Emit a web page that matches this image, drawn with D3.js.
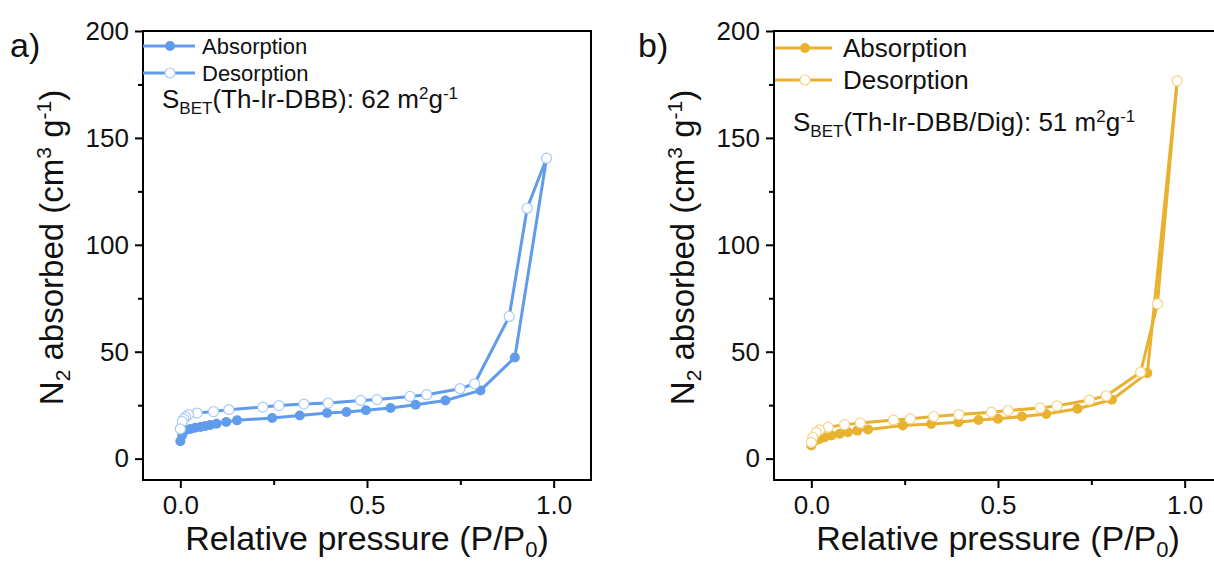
<!DOCTYPE html>
<html lang="en">
<head>
<meta charset="UTF-8">
<title>N2 isotherms</title>
<script src="https://cdnjs.cloudflare.com/ajax/libs/d3/7.8.5/d3.min.js"></script>
<style>
  body { margin: 0; background: white; }
  svg { display: block; font-family: "Liberation Sans", Arial, sans-serif; }
</style>
</head>
<body>
<div id="chart"></div>
<script>
// values
const adsA_P = [0.0, 0.005, 0.013, 0.027, 0.04, 0.054, 0.067, 0.08, 0.097, 0.123, 0.152, 0.246, 0.32, 0.393, 0.445, 0.497, 0.563, 0.63, 0.71, 0.804, 0.896, 0.981];
const adsA_V = [8.1, 11, 13.2, 13.9, 14.4, 14.8, 15.3, 15.7, 16.3, 17.1, 17.9, 19.0, 20.2, 21.3, 21.8, 22.6, 23.7, 25.2, 27.2, 31.9, 47.3, 140.5];
const desA_P = [0.981, 0.929, 0.881, 0.788, 0.749, 0.66, 0.615, 0.527, 0.483, 0.396, 0.331, 0.264, 0.221, 0.13, 0.089, 0.045, 0.022, 0.014, 0.009, 0.005, 0.0];
const desA_V = [140.5, 117.1, 66.5, 35.0, 32.7, 29.9, 29.1, 27.6, 27.2, 26.0, 25.5, 24.8, 24.1, 22.9, 22.0, 21.3, 20.6, 19.5, 18.6, 17.4, 13.9];

const adsB_P = [0.0, 0.009, 0.022, 0.036, 0.054, 0.076, 0.098, 0.123, 0.152, 0.245, 0.321, 0.394, 0.448, 0.5, 0.564, 0.629, 0.713, 0.805, 0.9, 0.98];
const adsB_V = [6.1, 8.4, 9.2, 10.0, 10.8, 11.6, 12.3, 13.1, 13.6, 15.5, 16.2, 17.0, 18.1, 18.6, 19.7, 20.9, 23.3, 27.5, 40.0, 176.7];
const desB_P = [0.98, 0.927, 0.882, 0.79, 0.745, 0.658, 0.613, 0.527, 0.482, 0.395, 0.328, 0.265, 0.22, 0.131, 0.089, 0.045, 0.022, 0.013, 0.004, 0.0];
const desB_V = [176.7, 72.4, 40.4, 29.4, 27.4, 24.7, 23.7, 22.5, 21.7, 20.6, 19.7, 18.6, 18.1, 16.7, 15.9, 14.7, 13.4, 12.3, 10.0, 7.6];

const yTicks = [0, 50, 100, 150, 200];
const yMinor = [25, 75, 125, 175];
const xTicks = [0, 0.5, 1.0];
const xMinor = [0.25, 0.75];
const legendNames = ["Absorption", "Desorption"];

const W = 1214, H = 561;
const svg = d3.select("#chart").append("svg").attr("width", W).attr("height", H);

const zip = (xs, ys) => xs.map((x, i) => ({x: x, y: ys[i]}));

const panels = [
  {label: "a)", left: 143, labelX: 10, color: "#619beb", edge: "#a9cbf4",
   ads: zip(adsA_P, adsA_V), des: zip(desA_P, desA_V),
   sample: "(Th-Ir-DBB): 62 m", textY: 108,
   leg: {x0: 143, x1: 195, mx: 170, tx: 202, y: [46, 73], fs: 22}},
  {label: "b)", left: 774, labelX: 638, color: "#e9b130", edge: "#f3d48c",
   ads: zip(adsB_P, adsB_V), des: zip(desB_P, desB_V),
   sample: "(Th-Ir-DBB/Dig): 51 m", textY: 131,
   leg: {x0: 775, x1: 832, mx: 805, tx: 843, y: [48, 80], fs: 26}}
];

const plotTop = 31, plotBottom = 480, plotW = 448;

panels.forEach(p => {
  const g = svg.append("g");
  const x = d3.scaleLinear().domain([-0.1, 1.1]).range([p.left, p.left + plotW]);
  const y = d3.scaleLinear().domain([-10, 200]).range([plotBottom, plotTop]);

  // frame
  g.append("rect").attr("x", p.left).attr("y", plotTop)
    .attr("width", plotW).attr("height", plotBottom - plotTop)
    .attr("fill", "none").attr("stroke", "#000").attr("stroke-width", 2);

  // y axis
  const ya = g.append("g").attr("transform", `translate(${p.left},0)`)
    .call(d3.axisLeft(y).tickValues(yTicks).tickSize(8).tickPadding(6).tickFormat(d3.format("d")));
  ya.select(".domain").remove();
  ya.selectAll(".tick line").attr("stroke-width", 2);
  ya.selectAll(".tick text").attr("font-size", 26).attr("fill", "#111")
    .attr("font-family", "Liberation Sans, Arial, sans-serif");
  const yb = g.append("g").attr("transform", `translate(${p.left},0)`)
    .call(d3.axisLeft(y).tickValues(yMinor).tickSize(5).tickFormat(""));
  yb.select(".domain").remove();
  yb.selectAll(".tick line").attr("stroke-width", 2);

  // x axis
  const xa = g.append("g").attr("transform", `translate(0,${plotBottom})`)
    .call(d3.axisBottom(x).tickValues(xTicks).tickSize(8).tickPadding(8).tickFormat(d3.format(".1f")));
  xa.select(".domain").remove();
  xa.selectAll(".tick line").attr("stroke-width", 2);
  xa.selectAll(".tick text").attr("font-size", 26).attr("fill", "#111")
    .attr("font-family", "Liberation Sans, Arial, sans-serif");
  const xb = g.append("g").attr("transform", `translate(0,${plotBottom})`)
    .call(d3.axisBottom(x).tickValues(xMinor).tickSize(5).tickFormat(""));
  xb.select(".domain").remove();
  xb.selectAll(".tick line").attr("stroke-width", 2);

  // axis titles
  const xt = g.append("text").attr("x", p.left + plotW / 2).attr("y", 550)
    .attr("text-anchor", "middle").attr("font-size", 34).attr("fill", "#111");
  xt.append("tspan").text("Relative pressure (P/P");
  xt.append("tspan").attr("font-size", 22).attr("dy", 7).text("0");
  xt.append("tspan").attr("dy", -7).text(")");

  const yt = g.append("text")
    .attr("transform", `translate(${p.left - 80},${(plotTop + plotBottom) / 2 - 8}) rotate(-90)`)
    .attr("text-anchor", "middle").attr("font-size", 33).attr("fill", "#111");
  yt.append("tspan").text("N");
  yt.append("tspan").attr("font-size", 21).attr("dy", 7).text("2");
  yt.append("tspan").attr("dy", -7).text(" absorbed (cm");
  yt.append("tspan").attr("font-size", 21).attr("dy", -12).text("3");
  yt.append("tspan").attr("dy", 12).text(" g");
  yt.append("tspan").attr("font-size", 21).attr("dy", -12).text("-1");
  yt.append("tspan").attr("dy", 12).text(")");

  // panel label
  g.append("text").attr("x", p.labelX).attr("y", 57)
    .attr("font-size", 34).attr("fill", "#111").text(p.label);

  // series
  const line = d3.line().x(d => x(d.x)).y(d => y(d.y));
  g.append("path").datum(p.ads).attr("d", line)
    .attr("fill", "none").attr("stroke", p.color).attr("stroke-width", 3).attr("stroke-linejoin", "round");
  g.append("g").selectAll("circle").data(p.ads).join("circle")
    .attr("cx", d => x(d.x)).attr("cy", d => y(d.y)).attr("r", 5)
    .attr("fill", p.color);
  g.append("path").datum(p.des).attr("d", line)
    .attr("fill", "none").attr("stroke", p.color).attr("stroke-width", 3).attr("stroke-linejoin", "round");
  g.append("g").selectAll("circle").data(p.des).join("circle")
    .attr("cx", d => x(d.x)).attr("cy", d => y(d.y)).attr("r", 5)
    .attr("fill", "#fff").attr("stroke", p.edge).attr("stroke-width", 1.2);

  // legend
  legendNames.forEach((name, i) => {
    const ly = p.leg.y[i];
    g.append("line").attr("x1", p.leg.x0).attr("x2", p.leg.x1).attr("y1", ly).attr("y2", ly)
      .attr("stroke", p.color).attr("stroke-width", 3);
    g.append("circle").attr("cx", p.leg.mx).attr("cy", ly).attr("r", 5)
      .attr("fill", i === 0 ? p.color : "#fff")
      .attr("stroke", i === 0 ? "none" : p.edge).attr("stroke-width", 1.2);
    g.append("text").attr("x", p.leg.tx).attr("y", ly + p.leg.fs * 0.36)
      .attr("font-size", p.leg.fs).attr("fill", "#111").text(name);
  });

  // BET annotation
  const bt = g.append("text").attr("x", p.left + 19).attr("y", p.textY)
    .attr("font-size", 26).attr("fill", "#111");
  bt.append("tspan").text("S");
  bt.append("tspan").attr("font-size", 17).attr("dy", 6).text("BET");
  bt.append("tspan").attr("dy", -6).text(p.sample);
  bt.append("tspan").attr("font-size", 17).attr("dy", -9).text("2");
  bt.append("tspan").attr("dy", 9).text("g");
  bt.append("tspan").attr("font-size", 17).attr("dy", -9).text("-1");
});
</script>
</body>
</html>
